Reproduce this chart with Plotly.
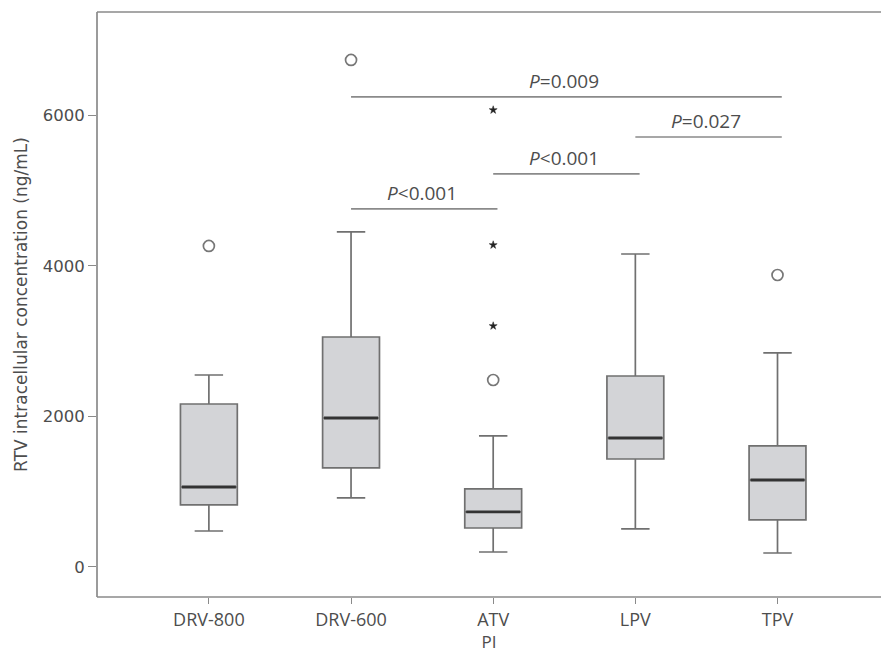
import plotly.graph_objects as go

categories = ["DRV-800", "DRV-600", "ATV", "LPV", "TPV"]
lower_whisker = [478, 917, 199, 505, 186]
q1 = [824, 1316, 518, 1435, 625]
median = [1063, 1980, 731, 1714, 1156]
q3 = [2166, 3056, 1037, 2538, 1608]
upper_whisker = [2551, 4452, 1741, 4159, 2844]
outliers_circle = [[4266], [6738], [2485], [], [3880]]
outliers_star = [[], [], [3203, 4279, 6073], [], []]

# comparisons: (from category index, to category index, label, bar height)
comp_from = [1, 2, 1, 3]
comp_to = [2, 3, 4, 4]
comp_label = ["<0.001", "<0.001", "=0.009", "=0.027"]
comp_y = [4758, 5223, 6246, 5714]

y_ticks = [0, 2000, 4000, 6000]

BOX_W = 0.4
LINE_C = "#707070"
FILL_C = "#d3d4d7"
TEXT_C = "#4d4d4d"
FRAME_C = "#8a8a8a"
FONT = "Open Sans"
YFONT = "DejaVu Sans"

fig = go.Figure()

for i, cat in enumerate(categories):
    fig.add_trace(go.Box(
        x=[i], q1=[q1[i]], median=[median[i]], q3=[q3[i]],
        lowerfence=[lower_whisker[i]], upperfence=[upper_whisker[i]],
        width=BOX_W, whiskerwidth=0.5, fillcolor=FILL_C,
        line=dict(color=LINE_C, width=1.7), boxpoints=False,
        showlegend=False, hoverinfo="skip", name=cat,
    ))
    # darker median line
    fig.add_trace(go.Scatter(
        x=[i - BOX_W / 2 + 0.01, i + BOX_W / 2 - 0.01], y=[median[i], median[i]],
        mode="lines", line=dict(color="#333333", width=2.8),
        showlegend=False, hoverinfo="skip",
    ))
    if outliers_circle[i]:
        fig.add_trace(go.Scatter(
            x=[i] * len(outliers_circle[i]), y=outliers_circle[i], mode="markers",
            marker=dict(symbol="circle-open", size=11, color="#777777",
                        line=dict(width=1.7, color="#777777")),
            showlegend=False, hoverinfo="skip",
        ))
    if outliers_star[i]:
        fig.add_trace(go.Scatter(
            x=[i] * len(outliers_star[i]), y=outliers_star[i], mode="markers",
            marker=dict(symbol="star", size=6, color="#222222",
                        line=dict(width=0.5, color="#222222")),
            showlegend=False, hoverinfo="skip",
        ))

for a, b, lab, yv in zip(comp_from, comp_to, comp_label, comp_y):
    fig.add_trace(go.Scatter(
        x=[a, b + 0.03], y=[yv, yv], mode="lines",
        line=dict(color=FRAME_C, width=1.7),
        showlegend=False, hoverinfo="skip",
    ))
    fig.add_annotation(
        x=(a + b) / 2, y=yv, xref="x", yref="y",
        text="<i>P</i>" + lab, showarrow=False,
        yanchor="bottom", yshift=1,
        font=dict(family=FONT, size=19, color=TEXT_C),
    )

# frame: left, top and bottom (the right side runs off the picture)
for x0, y0, x1, y1 in [(0, 0, 0, 1), (0, 1, 1, 1), (0, 0, 1, 0)]:
    fig.add_shape(type="line", xref="paper", yref="paper",
                  x0=x0, y0=y0, x1=x1, y1=y1,
                  line=dict(color=FRAME_C, width=1.7))

fig.update_layout(
    width=881, height=653,
    margin=dict(l=97, r=0, t=12, b=56),
    paper_bgcolor="white", plot_bgcolor="white",
    font=dict(family=FONT, color=TEXT_C),
    xaxis=dict(
        range=[-0.787, 4.728], tickvals=list(range(len(categories))),
        ticktext=categories, showgrid=False, zeroline=False, showline=False,
        ticks="outside", ticklen=6, tickcolor=FRAME_C, tickwidth=1.4,
        tickfont=dict(family=FONT, size=18, color=TEXT_C),
        title=dict(text="PI", font=dict(family=FONT, size=17, color=TEXT_C), standoff=2),
    ),
    yaxis=dict(
        range=[-399, 7375], tickvals=y_ticks, ticktext=[str(v) for v in y_ticks],
        showgrid=False, zeroline=False, showline=False,
        ticks="outside", ticklen=8, tickcolor=FRAME_C, tickwidth=1.4,
        tickfont=dict(family=YFONT, size=16.5, color=TEXT_C),
        title=dict(text="RTV intracellular concentration (ng/mL)",
                   font=dict(family=YFONT, size=17, color=TEXT_C), standoff=10),
    ),
)

fig.write_html(
    "out.html",
    config={"displayModeBar": False},
    post_script="document.body.style.margin='0';"
                "document.body.style.overflow='hidden';"
                "document.documentElement.style.overflow='hidden';",
)
